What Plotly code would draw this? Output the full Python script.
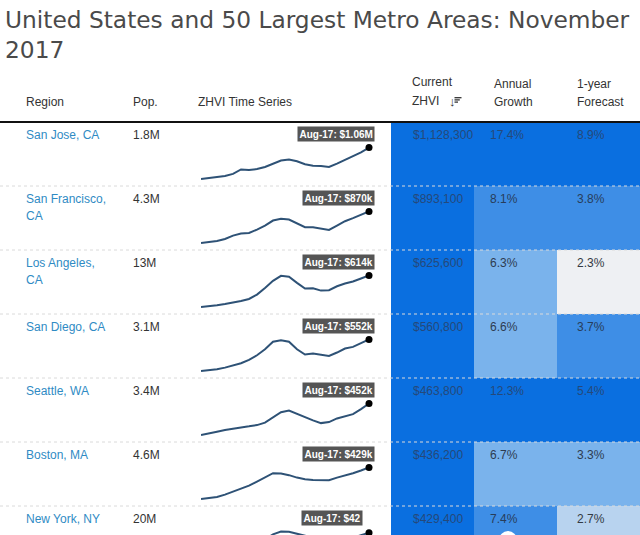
import plotly.graph_objects as go

W, H = 640, 535

# ---------------- data ----------------
title_text = "United States and 50 Largest Metro Areas: November 2017"
header_cols = ["Region", "Pop.", "ZHVI Time Series", "Current ZHVI", "Annual Growth", "1-year Forecast"]

regions = ["San Jose, CA", "San Francisco, CA", "Los Angeles, CA", "San Diego, CA",
           "Seattle, WA", "Boston, MA", "New York, NY"]
population = ["1.8M", "4.3M", "13M", "3.1M", "3.4M", "4.6M", "20M"]
current_zhvi = [1128300, 893100, 625600, 560800, 463800, 436200, 429400]
annual_growth = [17.4, 8.1, 6.3, 6.6, 12.3, 6.7, 7.4]
forecast = [8.9, 3.8, 2.3, 3.7, 5.4, 3.3, 2.7]
latest_labels = ["Aug-17: $1.06M", "Aug-17: $870k", "Aug-17: $614k", "Aug-17: $552k",
                 "Aug-17: $452k", "Aug-17: $429k", "Aug-17: $42"]

dates = [f"{y}-08-01" for y in range(1996, 2018)]
# ZHVI time series ($k), read from sparklines
san_jose = [290, 315, 340, 365, 416, 524, 508, 533, 583, 667, 742, 767, 725, 650, 616, 608, 583, 667, 759, 834, 943, 1060]
san_francisco = [250, 270, 290, 329, 395, 435, 448, 514, 593, 692, 725, 712, 633, 560, 560, 527, 507, 593, 679, 739, 811, 870]
los_angeles = [180, 189, 203, 221, 240, 263, 291, 351, 443, 540, 610, 596, 513, 434, 439, 406, 411, 466, 503, 531, 573, 614]
san_diego = [180, 188, 200, 220, 244, 271, 311, 366, 437, 525, 544, 525, 437, 374, 386, 370, 358, 398, 445, 465, 513, 552]
seattle = [150, 163, 182, 198, 214, 223, 233, 245, 268, 315, 369, 385, 353, 315, 290, 264, 274, 309, 328, 350, 398, 452]
boston = [170, 176, 187, 206, 231, 255, 280, 313, 346, 382, 379, 366, 346, 333, 327, 327, 324, 346, 363, 382, 404, 429]
new_york = [160, 168, 178, 195, 215, 240, 275, 320, 370, 415, 440, 438, 420, 395, 385, 375, 365, 362, 370, 385, 405, 429]
series = [san_jose, san_francisco, los_angeles, san_diego, seattle, boston, new_york]

# colour bin thresholds per column
zhvi_bins = [200000, 250000, 300000, 350000]
growth_bins = [4.0, 5.0, 7.0, 10.0]
forecast_bins = [2.5, 3.0, 3.5, 5.0]

# ---------------- styling / layout constants ----------------
shade_colors = ["#eef0f3", "#b8d3ef", "#7ab3ec", "#3e8ee6", "#0a6fe0"]
text_on_shade = ["#333a44", "#333a44", "#2e3c50", "#283d5a", "#25497a"]
FONT = "Liberation Sans, Arial, sans-serif"
HEADER_Y = 122
ROW_H = 64
TABLE_X0 = 391


def py(px):
    return 1 - px / H


def pxx(px):
    return px / W


def level(v, bins):
    return sum(1 for b in bins if v >= b)


n = len(regions)
row_tops = [HEADER_Y + ROW_H * i for i in range(n)]

fig = go.Figure()

# ---- coloured cells (heatmap) ----
z = [[level(current_zhvi[i], zhvi_bins), level(annual_growth[i], growth_bins),
      level(forecast[i], forecast_bins)] for i in range(n)]
cs = []
for k, c in enumerate(shade_colors):
    cs.append([k / 5, c])
    cs.append([(k + 1) / 5, c])
fig.add_trace(go.Heatmap(z=z, x=[0, 1, 2], y=list(range(n)), colorscale=cs, zmin=-0.5, zmax=4.5,
                         showscale=False, hoverinfo="skip", xaxis="x", yaxis="y"))
visible_rows = (H - HEADER_Y) / ROW_H
fig.update_layout(
    xaxis=dict(domain=[pxx(TABLE_X0), 1], range=[-0.5, 2.5], visible=False, fixedrange=True),
    yaxis=dict(domain=[0, py(HEADER_Y)], range=[-0.5 + visible_rows, -0.5], visible=False, fixedrange=True),
)

# ---- sparklines ----
MAX_OFF, MIN_OFF = 25.5, 57.0
DOM_TOP, DOM_BOT = 17.0, 63.0
for i, vals in enumerate(series):
    k = i + 2
    T = row_tops[i]
    vmax, vmin = max(vals), min(vals)
    s = (MIN_OFF - MAX_OFF) / (vmax - vmin)  # px per unit
    top_px = T + DOM_TOP
    bot_px = min(T + DOM_BOT, H)
    r_top = vmax + (MAX_OFF - DOM_TOP) / s
    r_bot = vmax - (bot_px - T - MAX_OFF) / s
    fig.add_trace(go.Scatter(x=dates, y=vals, mode="lines", line=dict(color="#2e5276", width=2),
                             hoverinfo="skip", xaxis=f"x{k}", yaxis=f"y{k}"))
    fig.add_trace(go.Scatter(x=[dates[-1]], y=[vals[-1]], mode="markers", cliponaxis=False,
                             marker=dict(color="black", size=7), hoverinfo="skip",
                             xaxis=f"x{k}", yaxis=f"y{k}"))
    fig.layout[f"xaxis{k}"] = dict(domain=[pxx(201), pxx(369)], range=[dates[0], dates[-1]],
                                   visible=False, anchor=f"y{k}", fixedrange=True)
    fig.layout[f"yaxis{k}"] = dict(domain=[py(bot_px), py(top_px)], range=[r_bot, r_top],
                                   visible=False, anchor=f"x{k}", fixedrange=True)

annotations = []


def add_text(x, y, text, size=12, color="#333", anchor="left", family=FONT, **kw):
    annotations.append(dict(x=pxx(x), y=py(y), xref="paper", yref="paper", text=text,
                            showarrow=False, xanchor=anchor, yanchor="middle",
                            font=dict(size=size, color=color, family=family), **kw))


# title
words = title_text.rsplit(" ", 1)
annotations.append(dict(x=pxx(3), y=py(4), xref="paper", yref="paper",
                        text=words[0] + "<br>" + words[1], showarrow=False, xanchor="left",
                        yanchor="top", align="left",
                        font=dict(size=23.3, color="#4a4a4a", family="DejaVu Sans, sans-serif")))

# headers
add_text(24, 102, header_cols[0])
add_text(131, 102, header_cols[1])
add_text(196, 102, header_cols[2])
h3 = header_cols[3].split(" ")
add_text(410, 82, h3[0])
add_text(410, 101, h3[1])
h4 = header_cols[4].split(" ")
add_text(492, 84, h4[0])
add_text(492, 102, h4[1])
h5 = header_cols[5].split(" ")
add_text(575, 84, h5[0])
add_text(575, 102, h5[1])
add_text(452, 101, "<b>↓</b>", size=13, anchor="center")

shapes = []
# sort icon bars
for yy, x1 in [(97.7, 461.5), (99.9, 459.8), (102.1, 458.0)]:
    shapes.append(dict(type="line", xref="paper", yref="paper", x0=pxx(454.5), x1=pxx(x1),
                       y0=py(yy), y1=py(yy), line=dict(color="#333", width=1.3)))

# rows
for i in range(n):
    T = row_tops[i]
    name = regions[i]
    if len(name) > 13:
        a, b = name.split(", ")
        add_text(24, T + 13, a + ",", color="#2f8bc4")
        add_text(24, T + 30, b, color="#2f8bc4")
    else:
        add_text(24, T + 13, name, color="#2f8bc4")
    add_text(131, T + 13, population[i])
    add_text(411, T + 13, f"${current_zhvi[i]:,}", color=text_on_shade[z[i][0]])
    add_text(488, T + 13, f"{annual_growth[i]:.1f}%", color=text_on_shade[z[i][1]])
    add_text(575, T + 13, f"{forecast[i]:.1f}%", color=text_on_shade[z[i][2]])
    lab_anchor_x, lab_anchor = (375, "right") if i < n - 1 else (301, "left")
    annotations.append(dict(x=pxx(lab_anchor_x), y=py(T + 12), xref="paper", yref="paper",
                            text=f"<b>{latest_labels[i]}</b>", showarrow=False,
                            xanchor=lab_anchor, yanchor="middle", bgcolor="#555555",
                            borderpad=1.5, font=dict(size=10, color="white", family=FONT)))
    if i > 0:
        shapes.append(dict(type="line", xref="paper", yref="paper", x0=0, x1=1,
                           y0=py(T), y1=py(T), line=dict(color="#dadada", width=1, dash="dot")))

# header rule
shapes.append(dict(type="line", xref="paper", yref="paper", x0=0, x1=1,
                   y0=py(HEADER_Y), y1=py(HEADER_Y), line=dict(color="#111", width=2)))
# partially visible round UI button at bottom
shapes.append(dict(type="circle", xref="paper", yref="paper", x0=pxx(499), x1=pxx(517),
                   y0=py(549), y1=py(531), fillcolor="white", line=dict(width=0)))

fig.update_layout(width=W, height=H, margin=dict(l=0, r=0, t=0, b=0),
                  paper_bgcolor="white", plot_bgcolor="white", showlegend=False,
                  annotations=annotations, shapes=shapes)

fig.write_html("out.html", config={"displayModeBar": False},
               post_script="document.body.style.margin='0';document.body.style.overflow='hidden';")
